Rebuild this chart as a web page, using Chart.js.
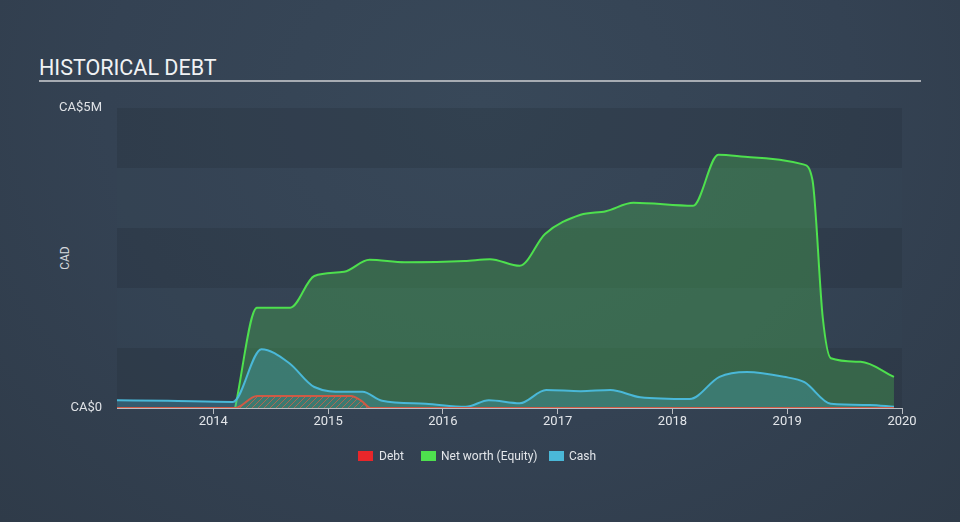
<!DOCTYPE html>
<html>
<head>
<meta charset="utf-8">
<script src="https://cdn.jsdelivr.net/npm/chart.js@4"></script>
<style>
  html, body { margin:0; padding:0; }
  body { width:960px; height:522px; overflow:hidden; position:relative;
    background: radial-gradient(ellipse at 50% 20%, #384859 0%, #344253 55%, #2f3b49 100%);
    font-family: Roboto, "Noto Sans", sans-serif; }
  #title { position:absolute; left:39px; top:55px; font-size:21.5px; color:#f0f2f4; }
  #rule { position:absolute; left:39px; top:80px; width:882px; height:2px; background:#a7acb3; }
  #cad { position:absolute; left:48px; top:251px; width:34px; text-align:center; font-size:12px; color:#d6d9dd; transform:rotate(-90deg); }
  .sw { position:absolute; top:451px; width:15px; height:10px; }
  .lt { position:absolute; top:449px; font-size:12px; color:#e3e6ea; white-space:nowrap; }
  canvas { position:absolute; left:0; top:0; }
</style>
</head>
<body>
<div id="title">HISTORICAL DEBT</div>
<div id="rule"></div>
<div id="cad">CAD</div>
<canvas id="c" width="960" height="522"></canvas>
<span class="sw" style="left:358px;background:#e8262a"></span><span class="lt" style="left:379px">Debt</span>
<span class="sw" style="left:421px;background:#4ee04e"></span><span class="lt" style="left:441px">Net worth (Equity)</span>
<span class="sw" style="left:549px;background:#4ab8d8"></span><span class="lt" style="left:569px">Cash</span>
<script>
// ---- data (dates as decimal years, values in CAD) ----
const debtDates   = [2013.16, 2014.10, 2014.19, 2014.38, 2015.20, 2015.29, 2015.37, 2016.5, 2017.5, 2018.5, 2019.5, 2019.93];
const debtValues  = [0, 0, 0, 200000, 200000, 120000, 0, 0, 0, 0, 0, 0];

const equityDates  = [2014.19, 2014.38, 2014.67, 2014.88, 2015.14, 2015.36, 2015.67, 2016.19, 2016.41, 2016.67, 2016.89, 2017.20, 2017.42, 2017.66, 2018.18, 2018.40, 2018.68, 2019.14, 2019.22, 2019.31, 2019.38, 2019.64, 2019.93];
const equityValues = [0, 1670000, 1670000, 2200000, 2270000, 2470000, 2430000, 2450000, 2480000, 2370000, 2900000, 3220000, 3280000, 3420000, 3370000, 4220000, 4180000, 4060000, 3800000, 1500000, 830000, 770000, 520000];

const cashDates  = [2013.16, 2013.60, 2014.17, 2014.42, 2014.66, 2014.88, 2015.14, 2015.30, 2015.47, 2015.85, 2016.20, 2016.40, 2016.67, 2016.90, 2017.20, 2017.46, 2017.72, 2018.15, 2018.41, 2018.65, 2018.97, 2019.15, 2019.38, 2019.72, 2019.93];
const cashValues = [130000, 120000, 100000, 980000, 750000, 350000, 270000, 270000, 120000, 70000, 20000, 130000, 80000, 300000, 280000, 300000, 180000, 150000, 520000, 600000, 520000, 430000, 70000, 50000, 20000];

const yearTicks = [2014, 2015, 2016, 2017, 2018, 2019, 2020];
const valueTicks = [0, 5000000];

function pts(d, v) { return d.map((x, i) => ({ x: x, y: v[i] })); }

// hatch pattern for debt
const pc = document.createElement('canvas');
pc.width = 6; pc.height = 6;
const pctx = pc.getContext('2d');
pctx.strokeStyle = 'rgba(214,96,72,0.75)';
pctx.lineWidth = 1;
pctx.beginPath();
pctx.moveTo(0, 6); pctx.lineTo(6, 0);
pctx.moveTo(-3, 3); pctx.lineTo(3, -3);
pctx.moveTo(3, 9); pctx.lineTo(9, 3);
pctx.stroke();
const hatch = document.getElementById('c').getContext('2d').createPattern(pc, 'repeat');

const bands = {
  id: 'bands',
  beforeDraw(chart) {
    const { ctx, chartArea: a, scales: { y } } = chart;
    ctx.save();
    for (let i = 0; i < 5; i++) {
      const t = y.getPixelForValue((i + 1) * 1000000);
      const b = y.getPixelForValue(i * 1000000);
      ctx.fillStyle = (i % 2 === 0) ? 'rgba(36,46,58,0.28)' : 'rgba(58,72,88,0.12)';
      ctx.fillRect(a.left, t, a.right - a.left, b - t);
    }
    ctx.restore();
  }
};

new Chart(document.getElementById('c'), {
  type: 'line',
  data: {
    datasets: [
      { label: 'Debt', data: pts(debtDates, debtValues), order: 0,
        borderColor: '#cf5a45', borderWidth: 2, backgroundColor: hatch, fill: 'origin',
        pointRadius: 0, cubicInterpolationMode: 'monotone' },
      { label: 'Net worth (Equity)', data: pts(equityDates, equityValues), order: 2,
        borderColor: '#4ee04e', borderWidth: 2, backgroundColor: 'rgba(70,170,80,0.38)', fill: 'origin',
        pointRadius: 0, cubicInterpolationMode: 'monotone' },
      { label: 'Cash', data: pts(cashDates, cashValues), order: 1,
        borderColor: '#4ab8d8', borderWidth: 2, backgroundColor: 'rgba(70,170,200,0.3)', fill: 'origin',
        pointRadius: 0, cubicInterpolationMode: 'monotone' }
    ]
  },
  options: {
    responsive: false,
    animation: false,
    events: [],
    layout: { padding: { top: 108, bottom: 84, left: 0, right: 58 } },
    plugins: { legend: { display: false }, tooltip: { enabled: false } },
    scales: {
      x: {
        type: 'linear', min: 2013.161, max: 2020,
        afterBuildTicks: s => { s.ticks = yearTicks.map(v => ({ value: v })); },
        afterFit: s => { s.height = 30; },
        grid: { display: true, drawOnChartArea: false, drawTicks: true, tickLength: 6, color: '#b9bdc3' },
        border: { display: true, color: '#b9bdc3', width: 1 },
        ticks: { color: '#e3e6ea', font: { family: 'Roboto', size: 13 }, padding: 0, maxRotation: 0,
          callback: v => String(v) }
      },
      y: {
        type: 'linear', min: 0, max: 5000000,
        afterBuildTicks: s => { s.ticks = valueTicks.map(v => ({ value: v })); },
        afterFit: s => { s.width = 117; },
        grid: { display: false, tickLength: 0 },
        border: { display: false },
        ticks: { color: '#dfe2e6', font: { family: 'Roboto', size: 13 }, padding: 15,
          callback: v => v === 0 ? 'CA$0' : 'CA$' + (v / 1000000) + 'M' }
      }
    }
  },
  plugins: [bands]
});
</script>
</body>
</html>
